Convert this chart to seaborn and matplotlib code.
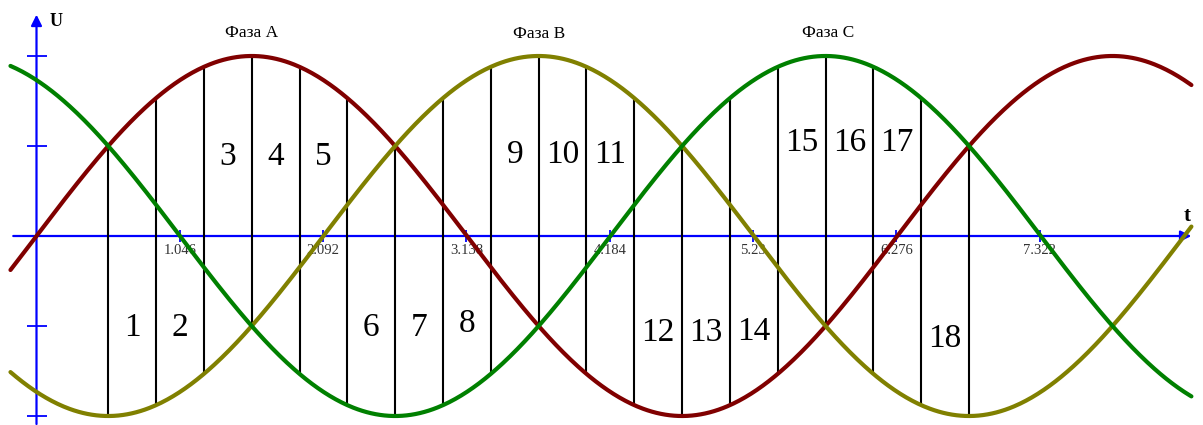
import numpy as np
import pandas as pd
import matplotlib.pyplot as plt
import seaborn as sns

# three-phase voltage: U = sin(t - shift)
phase_names = ['Фаза А', 'Фаза В', 'Фаза С']
phase_shift_deg = [0, 120, 240]
phase_colors = ['#800000', '#808000', '#008000']
phase_label_t = [1.57, 3.67, 5.78]
phase_label_u = [1.13, 1.12, 1.13]

t_start, t_end = -0.19, 8.43

# cut lines (degrees) and the numbered sectors between them
cut_deg = [30, 50, 70, 90, 110, 130, 150, 170, 190, 210,
           230, 250, 270, 290, 310, 330, 350, 370, 390]
sector_labels = [str(i) for i in range(1, 19)]
sector_u = [-0.51, -0.51, 0.44, 0.44, 0.44, -0.51, -0.51, -0.49, 0.45,
            0.45, 0.45, -0.54, -0.54, -0.53, 0.52, 0.52, 0.52, -0.57]

x_ticks = [1.046, 2.092, 3.138, 4.184, 5.23, 6.276, 7.322]
x_tick_labels = ['1.046', '2.092', '3.138', '4.184', '5.23', '6.276', '7.322']
y_ticks = [-1, -0.5, 0.5, 1]

sns.set_style('white')
plt.rcParams['font.family'] = ['Liberation Serif', 'DejaVu Serif']
plt.rcParams['text.color'] = 'black'

# long-form table for seaborn
t = np.linspace(t_start, t_end, 800)
rows = []
for name, sh in zip(phase_names, phase_shift_deg):
    rows.append(pd.DataFrame({'t': t, 'U': np.sin(t - np.radians(sh)), 'phase': name}))
df = pd.concat(rows, ignore_index=True)

fig = plt.figure(figsize=(12.03, 4.25), dpi=100)
ax = fig.add_axes([0, 0, 1, 1])
ax.set_xlim(-36.5 / 137, (1203 - 36.5) / 137)
ax.set_ylim(-189 / 180, 236 / 180)
ax.axis('off')

# blue axes with arrows
ax.annotate('', xy=(8.45, 0), xytext=(-0.19, 0),
            arrowprops=dict(arrowstyle='-|>', color='blue', lw=1.6, mutation_scale=16), zorder=1)
ax.annotate('', xy=(0, 1.245), xytext=(0, -1.06),
            arrowprops=dict(arrowstyle='-|>', color='blue', lw=1.6, mutation_scale=16), zorder=1)
ax.plot(x_ticks, [0] * len(x_ticks), ls='none', marker='|', ms=9, mew=1.3, color='blue', zorder=1)
ax.plot([0] * len(y_ticks), y_ticks, ls='none', marker='_', ms=14, mew=1.3, color='blue', zorder=1)
for xt, lab in zip(x_ticks, x_tick_labels):
    ax.text(xt, -0.08, lab, ha='center', va='center', fontsize=10.5, color='#333333', zorder=1)
ax.text(0.14, 1.19, 'U', ha='center', va='center', fontsize=13, fontweight='bold', color='black')
ax.text(8.40, 0.11, 't', ha='center', va='center', fontsize=15, fontweight='bold', color='black')

# vertical cut lines from the lowest to the highest phase
cut_t = np.radians(cut_deg)
vals = np.array([np.sin(cut_t - np.radians(sh)) for sh in phase_shift_deg])
ax.vlines(cut_t, vals.min(axis=0), vals.max(axis=0), colors='black', lw=1.5, zorder=2)

# phase curves
sns.lineplot(data=df, x='t', y='U', hue='phase', palette=phase_colors,
             estimator=None, lw=3, legend=False, ax=ax, zorder=3)
ax.axis('off')

for name, xt, yu in zip(phase_names, phase_label_t, phase_label_u):
    ax.text(xt, yu, name, ha='center', va='center', fontsize=12.5, color='black')

mids = (cut_t[:-1] + cut_t[1:]) / 2
for xm, yu, lab in zip(mids, sector_u, sector_labels):
    ax.text(xm, yu, lab, ha='center', va='center', fontsize=24, color='black', zorder=4)

fig.savefig('out.png', dpi=100)
